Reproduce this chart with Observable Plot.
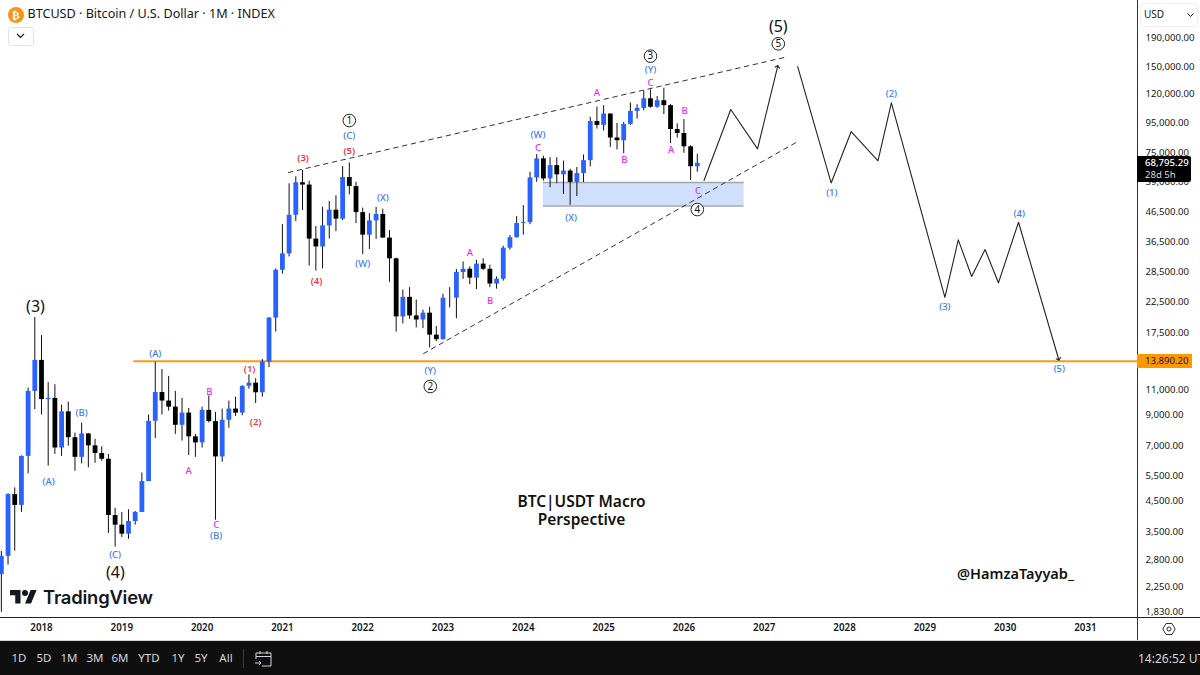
<!DOCTYPE html>
<html>
<head>
<meta charset="utf-8">
<script src="https://cdn.jsdelivr.net/npm/d3@7"></script>
<script src="https://cdn.jsdelivr.net/npm/@observablehq/plot@0.6"></script>
<style>
  html, body { margin: 0; padding: 0; background: #fff; }
  body { width: 1200px; height: 675px; position: relative; overflow: hidden; font-family: "Noto Sans", sans-serif; color: #131722; }
  #chart { position: absolute; left: 0; top: 0; }
  #chart svg { display: block; }
  .abs { position: absolute; white-space: nowrap; }
  #toolbar { position: absolute; left: 0; top: 641px; width: 1200px; height: 34px; background: #0f0f0f; color: #d1d4dc; font-size: 11.5px; }
  #toolbar span { position: absolute; top: 9px; transform: translateX(-50%); white-space: nowrap; }
</style>
</head>
<body>
<div id="chart"></div>

<div class="abs" style="left:1137px;top:0;width:1px;height:641px;background:#333"></div>
<div class="abs" style="left:0;top:617px;width:1200px;height:1px;background:#222"></div>
<div class="abs" style="left:0;top:640px;width:1200px;height:1px;background:#d6d6d6"></div>

<!-- header -->
<svg class="abs" style="left:7px;top:6px" width="18" height="18" viewBox="0 0 18 18">
  <circle cx="9" cy="9" r="8" fill="#f7931a"/>
  <text x="9" y="13" text-anchor="middle" font-size="11" font-weight="700" fill="#fff" font-family="DejaVu Sans">₿</text>
</svg>
<div class="abs" style="left:27.5px;top:5px;font-size:12.6px;line-height:18px;">BTCUSD · Bitcoin / U.S. Dollar · 1M · INDEX</div>
<div class="abs" style="left:8px;top:27px;width:24px;height:17px;border:1px solid #e0e3eb;border-radius:3px;background:#fff"></div>
<svg class="abs" style="left:15px;top:32px" width="11" height="8"><path d="M2 2l3.5 3.5L9 2" fill="none" stroke="#131722" stroke-width="1.1"/></svg>

<!-- price scale extras -->
<div class="abs" style="left:1140px;top:3px;width:56px;height:22px;border:1px solid #eef0f3;border-radius:3px;background:#fff"></div>
<div class="abs" style="left:1144px;top:7px;font-size:10px;line-height:15px;">USD</div>
<svg class="abs" style="left:1186px;top:12px" width="9" height="6"><path d="M1.5 1.5L4.5 4.5L7.5 1.5" fill="none" stroke="#131722" stroke-width="1"/></svg>
<div class="abs" style="left:1137px;top:156px;width:54px;height:26px;background:#000;color:#fff;border-radius:0 2px 2px 0;font-size:9.6px;line-height:12px;">
  <div style="padding:1px 0 0 8px;font-weight:500">68,795.29</div>
  <div style="padding-left:8px;color:#d8d8d8">28d 5h</div>
</div>
<div class="abs" style="left:1137px;top:354px;width:55px;height:14px;background:#ff9800;color:#131722;font-size:9.6px;line-height:14px;"><span style="padding-left:8px">13,890.20</span></div>

<!-- logo -->
<svg class="abs" style="left:10px;top:587px" width="27" height="21" viewBox="0 0 36 28">
  <path d="M14 22H7V11H0V4h14v18zM28 22h-8l7.5-18h8L28 22z" fill="#131722"/>
  <circle cx="20" cy="8" r="4" fill="#131722"/>
</svg>
<div class="abs" style="left:43px;top:585px;font-family:Inter;font-weight:600;font-size:18.4px;line-height:25px;letter-spacing:-0.2px;">TradingView</div>

<!-- gear -->
<svg class="abs" style="left:1161px;top:621px" width="16" height="16" viewBox="0 0 16 16">
  <path d="M5 2.5h6L14.2 8 11 13.5H5L1.8 8z" fill="none" stroke="#333" stroke-width="1"/>
  <circle cx="8" cy="8" r="2" fill="none" stroke="#333" stroke-width="1"/>
</svg>

<div id="toolbar">
  <span style="left:19px">1D</span><span style="left:44px">5D</span><span style="left:69px">1M</span>
  <span style="left:95px">3M</span><span style="left:120px">6M</span><span style="left:149px">YTD</span>
  <span style="left:178px">1Y</span><span style="left:201px">5Y</span><span style="left:226px">All</span>
  <div style="position:absolute;left:242.5px;top:8px;width:1px;height:19px;background:#3a3a3a"></div>
  <svg style="position:absolute;left:254px;top:8px" width="19" height="19" viewBox="0 0 19 19" fill="none" stroke="#d1d4dc" stroke-width="1">
    <path d="M2 10V4h15v13H8M2 7.5h15M6 2v3M13 2v3M1 14h6M5 12l2 2-2 2"/>
  </svg>
  <span style="left:1138px;transform:none;font-size:12px;top:9px">14:26:52 UTC-5</span>
</div>

<script>
// monthly candles, first one is jul 2017, month 0 = jan 2018
const firstMonth = -6
const opens = [2480,2875,4735,4340,6450,10900,
  14000,10200,10300,6900,9240,7500,6400,7730,7020,6600,6300,4000,
  3700,3440,3810,4100,5260,8560,10800,10080,9600,8290,9150,7550,
  7190,9350,8540,6420,8630,9450,9140,11350,11650,10780,13800,19700,
  29000,33100,45200,58800,57700,37300,35000,41500,47100,43800,61300,57000,
  46200,38500,43200,45500,37600,31800,19900,23300,20050,19400,20500,17170,
  16550,23140,23150,28470,29230,27210,30470,29230,25940,26970,34650,37720,
  42280,42580,61130,71290,60640,67520,62680,64630,58970,63330,70290,96400,
  93430,102400,84370,82550,94200,104600,107100,115800,108200,114050,109600,90400,
  87500,78600,66900]
const highs = [2990,4770,5000,6470,11200,19800,
  17100,11700,11500,9750,10000,7780,8430,7750,7400,6970,6550,4240,
  4100,4190,4130,5640,9000,13800,13000,12300,10900,10300,9500,7700,
  9600,10500,9200,9450,10080,10400,11400,12450,12080,14100,19800,29300,
  41900,58300,61700,64900,59500,41300,48200,50500,52900,67000,69000,59000,
  47900,45800,48200,47500,40000,32000,24700,25200,22800,21000,21500,18400,
  23900,25200,29200,31000,29800,31400,31800,30200,27500,35200,38400,44700,
  48900,64000,73800,72800,72000,72000,70000,65600,66500,73600,99800,108300,
  109600,102500,95000,95700,112000,110400,123200,124500,117900,126200,110600,94600,
  97900,79300,74000]
const lows = [1830,2680,3000,4100,5600,9400,
  9000,5960,6550,6450,7000,5720,6070,5880,6100,6200,3460,3100,
  3350,3300,3700,4100,5260,7450,9000,9300,7700,7300,6500,6400,
  6900,8450,3850,6150,8100,8900,8950,11100,9880,10400,13200,17600,
  28100,32300,43000,47000,30000,28800,29300,37300,39600,43300,53300,42300,
  32900,34300,37200,37600,26300,17600,18800,19500,18200,18100,15500,16300,
  16500,21400,19600,26950,25800,24800,28900,25200,24900,26550,34100,37600,
  38500,41900,59000,59600,56500,58400,53500,49000,52600,58900,66800,90700,
  89200,78200,76600,74400,93400,98200,105100,107300,107300,102000,80600,84400,
  74600,59900,64000]
const closes = [2875,4735,4340,6450,10900,14000,
  10200,10300,6900,9240,7500,6400,7730,7020,6600,6300,4000,3700,
  3440,3810,4100,5260,8560,10800,10080,9600,8290,9150,7550,7190,
  9350,8540,6420,8630,9450,9140,11350,11650,10780,13800,19700,29000,
  33100,45200,58800,57700,37300,35000,41500,47100,43800,61300,57000,46200,
  38500,43200,45500,37600,31800,19900,23300,20050,19400,20500,17170,16550,
  23140,23150,28470,29230,27210,30470,29230,25940,26970,34650,37720,42280,
  42580,61130,71290,60640,67520,62680,64630,58970,63330,70290,96400,93430,
  102400,84370,82550,94200,104600,107100,115800,108200,114050,109600,90400,87500,
  78600,66900,68795]

const years = [2018,2019,2020,2021,2022,2023,2024,2025,2026,2027,2028,2029,2030,2031]
const priceTicks = [190000,150000,120000,95000,75000,59000,46500,36500,28500,22500,17500,11000,9000,7000,5500,4500,3500,2800,2250,1830]

const level = 13890.20
const levelStart = 13.8
const zoneMonths = [75, 105]
const zonePrices = [48700, 58900]

// dashed wedge
const upperMonths = [36.9, 111]
const upperPrices = [63860, 161700]
const lowerMonths = [57.1, 113]
const lowerPrices = [14800, 82000]

// projected paths
const pathUpMonths = [99,103,107,110]
const pathUpPrices = [59850,106200,77300,150300]
const pathDownMonths = [113,118,121,125,127,135,137,139,141,143,146,152]
const pathDownPrices = [150300,58700,88900,70200,112100,23300,37070,27570,34280,26200,42730,14130]

// wave labels: [text, month, price]
const blueLabels = [["(A)",1.05,5263],["(B)",6,9137],["(C)",11,2917],["(A)",17,14765],["(B)",26.1,3384],
  ["(C)",46,86090],["(X)",51,52050],["(W)",48,30440],["(Y)",58.1,12830],["(W)",74.2,86790],["(X)",79.15,44130],
  ["(Y)",91,146700],["(1)",118.1,54010],["(2)",127,120200],["(3)",135,21500],["(4)",146.1,45580],["(5)",152.1,13040]]
const redLabels = [["(3)",39.1,71670],["(5)",46,76270],["(4)",41.1,26540],["(1)",31.1,13110],["(2)",32,8525]]
const pinkLabels = [["A",22,5738],["B",25.1,10890],["C",26.1,3718],["A",64,33270],["B",67.05,22580],["C",74.2,78150],
  ["A",83,121200],["B",87.1,70930],["C",91,131300],["A",94.1,76450],["B",96.1,104800],["C",98.1,54900]]
const bigLabels = [["(3)",-0.9,21630],["(4)",11.05,2524],["(5)",110.1,207600]]
const circleLabels = [["1",46,97180],["2",58.1,11340],["3",91,163400],["4",98,47350],["5",110.1,180600]]
const notes = [["BTC|USDT Macro",80.7,4442],["Perspective",80.7,3841]]
const handle = [["@HamzaTayyab_",145.55,2483]]

const candles = opens.map((o, i) => ({month: firstMonth + i, o, h: highs[i], l: lows[i], c: closes[i]}))

const pairs = (ms, ps) => ms.map((m, i) => [m, ps[i]])
const wave = (data, color, opts) => Plot.text(data, {text: d => d[0], x: d => d[1], y: d => d[2], fill: color, ...opts})

let chart = Plot.plot({
  width: 1200,
  height: 640,
  marginLeft: 0,
  marginRight: 63,
  marginTop: 0,
  marginBottom: 23,
  style: {fontFamily: "Noto Sans", background: "#fff", color: "#131722", overflow: "hidden"},
  x: {type: "linear", domain: [-6.127, 163.78]},
  y: {type: "log", domain: [1755, 256200]},
  marks: [
    Plot.rect([0], {x1: zoneMonths[0], x2: zoneMonths[1], y1: zonePrices[0], y2: zonePrices[1], fill: "#cfdffc"}),
    Plot.ruleY(zonePrices, {x1: zoneMonths[0], x2: zoneMonths[1], stroke: "#a3a6ad", strokeWidth: 1.4}),
    Plot.ruleY([level], {x1: levelStart, x2: 163.78, stroke: "#fb9a1c", strokeWidth: 2}),
    Plot.ruleX(candles, {x: "month", y1: "l", y2: "h", stroke: "#111", strokeWidth: 1}),
    Plot.ruleX(candles, {x: "month", y1: "o", y2: "c", stroke: d => d.c >= d.o ? "#2962ff" : "#000", strokeWidth: 4.8}),
    Plot.line(pairs(upperMonths, upperPrices), {x: "0", y: "1", stroke: "#333", strokeWidth: 1, strokeDasharray: "4.5,4.5"}),
    Plot.line(pairs(lowerMonths, lowerPrices), {x: "0", y: "1", stroke: "#333", strokeWidth: 1, strokeDasharray: "4.5,4.5"}),
    Plot.line(pairs(pathUpMonths, pathUpPrices), {x: "0", y: "1", stroke: "#222", strokeWidth: 1.1, markerEnd: "arrow"}),
    Plot.line(pairs(pathDownMonths, pathDownPrices), {x: "0", y: "1", stroke: "#222", strokeWidth: 1.1, markerEnd: "arrow"}),
    wave(blueLabels, "#3f7bf2", {fontSize: 9.5, fontWeight: 500}),
    wave(redLabels, "#f23645", {fontSize: 9.5, fontWeight: 600}),
    wave(pinkLabels, "#ee2cf0", {fontSize: 9.5, fontWeight: 500}),
    wave(bigLabels, "#111", {fontSize: 16}),
    Plot.dot(circleLabels, {x: d => d[1], y: d => d[2], r: 6.3, fill: "#fff", stroke: "#222", strokeWidth: 1}),
    wave(circleLabels, "#111", {fontSize: 10}),
    wave(notes, "#111", {fontSize: 15.5, fontWeight: 600}),
    wave(handle, "#111", {fontSize: 14.5, fontWeight: 600}),
    Plot.axisY(priceTicks, {anchor: "right", label: null, tickSize: 0, tickPadding: 8, fontSize: 9.6, tickFormat: d3.format(",.2f")}),
    Plot.axisX(years.map(y => (y - 2018) * 12), {anchor: "bottom", label: null, tickSize: 0, tickPadding: 7, fontSize: 9.8, fontWeight: 600, tickFormat: m => String(years[m / 12])})
  ]
})

/* Agrega el chart al DOM */
d3.select('#chart').append(() => chart)
</script>
</body>
</html>
